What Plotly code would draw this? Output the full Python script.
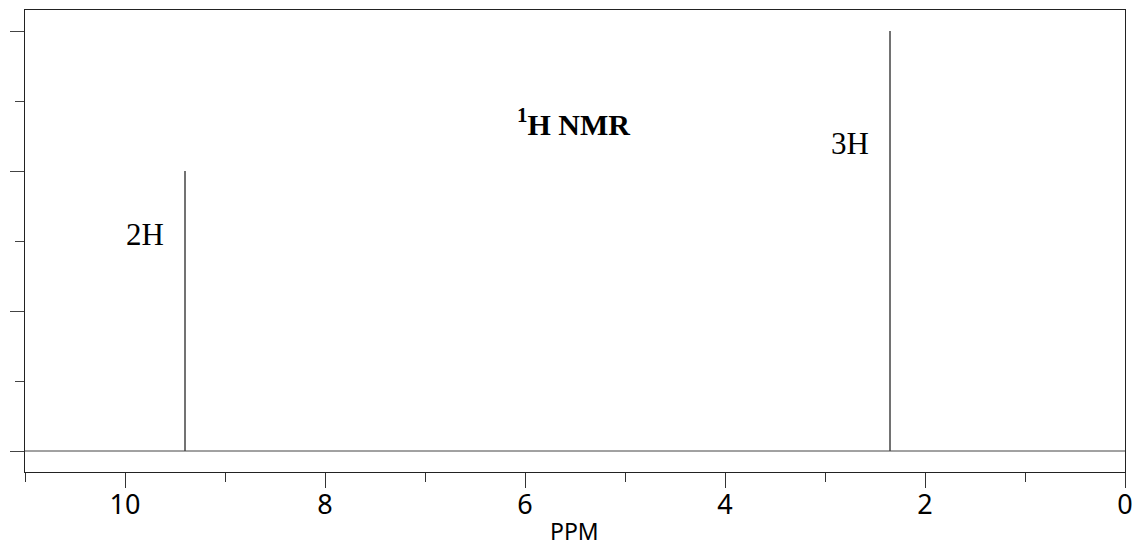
import plotly.graph_objects as go

# Data
peak_ppm = [9.4, 2.35]
peak_height = [4, 6]
peak_labels = ["2H", "3H"]
label_y = [3.1, 4.4]
x_range = [11, 0]
y_range = [-0.3, 6.3]
x_tick_vals = [10, 8, 6, 4, 2, 0]
x_tick_text = ["10", "8", "6", "4", "2", "0"]

# build stick spectrum from the peak lists
xs = [x_range[0]]
ys = [0]
for p, h in sorted(zip(peak_ppm, peak_height), reverse=True):
    xs += [p, p, p]
    ys += [0, h, 0]
xs.append(x_range[1])
ys.append(0)

fig = go.Figure()
fig.add_trace(go.Scatter(x=xs, y=ys, mode="lines",
                         line=dict(color="#444444", width=1),
                         showlegend=False, hoverinfo="skip"))

for p, ly, lab in zip(peak_ppm, label_y, peak_labels):
    fig.add_annotation(x=p, y=ly, text=lab,
                       xref="x", yref="y", showarrow=False,
                       xanchor="right", yanchor="middle", xshift=-19,
                       font=dict(family="Liberation Serif", size=31, color="black"))

fig.add_annotation(x=5.52, y=4.7, xref="x", yref="y", showarrow=False,
                   text="<b><sup>1</sup>H NMR</b>",
                   font=dict(family="Liberation Serif", size=30, color="black"))

fig.add_annotation(x=5.51, y=0, xref="x", yref="paper", showarrow=False,
                   yanchor="top", yshift=-41, text="PPM",
                   font=dict(family="Noto Sans", size=23, color="black"))

fig.update_layout(
    width=1133, height=545,
    margin=dict(l=25, r=8, t=10, b=73),
    paper_bgcolor="white", plot_bgcolor="white",
    xaxis=dict(range=x_range, tickvals=x_tick_vals, ticktext=x_tick_text,
               automargin=False, ticklabeloverflow="allow",
               ticks="outside", ticklen=15, tickcolor="#333", tickwidth=1,
               minor=dict(dtick=1, ticks="outside", ticklen=9, tickcolor="#333", tickwidth=1),
               showgrid=False, zeroline=False, showline=True, mirror=True,
               linecolor="#222", linewidth=1,
               ticklabelstandoff=-6,
               tickfont=dict(family="Noto Sans", size=27, color="black")),
    yaxis=dict(range=y_range, dtick=2, tick0=0, automargin=False,
               ticks="outside", ticklen=14, tickcolor="#444", tickwidth=1,
               minor=dict(dtick=1, ticks="outside", ticklen=9, tickcolor="#444", tickwidth=1),
               showticklabels=False, showgrid=False, zeroline=False,
               showline=True, mirror=True, linecolor="#222", linewidth=1),
)

fig.write_html("out.html", config={"displayModeBar": False},
               post_script="document.body.style.margin='0';document.body.style.overflow='hidden';")
